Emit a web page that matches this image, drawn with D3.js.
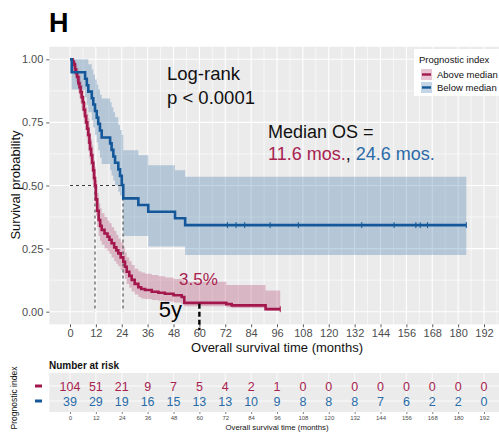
<!DOCTYPE html>
<html>
<head>
<meta charset="utf-8">
<script src="https://cdn.jsdelivr.net/npm/d3@7/dist/d3.min.js"></script>
<style>
  html, body { margin: 0; padding: 0; background: #fff; }
  svg { display: block; font-family: Arial, "Liberation Sans", sans-serif; }
</style>
</head>
<body>
<svg id="chart" width="499" height="433"></svg>
<script>
// Kaplan–Meier estimates by prognostic index group (months, survival, 95% CI)
const redTime  = [0, 1.2, 1.8, 2.3, 2.8, 3.3, 3.9, 4.4, 4.9, 5.4, 5.9, 6.4, 6.96, 7.5, 8, 8.5, 9, 9.3, 9.8, 10.3, 10.8, 11.2, 11.6, 12, 12.6, 13.3, 14, 14.7, 16, 17.4, 18.3, 19.3, 20.5, 21.5, 22.4, 23.5, 24.7, 25.5, 26.3, 27.5, 28.6, 30, 31.7, 33, 34.8, 37.9, 41, 44, 48, 51.8, 53, 72.5, 75, 90.7];
const redSurv  = [1, 0.99, 0.98, 0.96, 0.945, 0.93, 0.905, 0.89, 0.87, 0.85, 0.83, 0.80, 0.775, 0.75, 0.725, 0.70, 0.67, 0.645, 0.62, 0.59, 0.56, 0.53, 0.50, 0.445, 0.40, 0.363, 0.34, 0.324, 0.31, 0.297, 0.285, 0.271, 0.255, 0.243, 0.231, 0.215, 0.198, 0.178, 0.158, 0.142, 0.126, 0.11, 0.097, 0.09, 0.086, 0.079, 0.075, 0.071, 0.065, 0.058, 0.035, 0.03, 0.025, 0.01];
const redLower = [1, 0.97, 0.955, 0.93, 0.91, 0.895, 0.865, 0.845, 0.825, 0.80, 0.78, 0.745, 0.72, 0.69, 0.665, 0.635, 0.605, 0.58, 0.555, 0.52, 0.49, 0.46, 0.43, 0.38, 0.335, 0.30, 0.28, 0.265, 0.25, 0.24, 0.23, 0.215, 0.20, 0.19, 0.18, 0.165, 0.15, 0.13, 0.11, 0.095, 0.08, 0.068, 0.058, 0.052, 0.05, 0.046, 0.043, 0.04, 0.036, 0.03, 0.022, 0.018, 0.015, 0.004];
const redUpper = [1, 1, 1, 0.99, 0.98, 0.965, 0.945, 0.935, 0.915, 0.90, 0.88, 0.855, 0.83, 0.81, 0.785, 0.765, 0.735, 0.71, 0.685, 0.66, 0.63, 0.60, 0.575, 0.52, 0.47, 0.43, 0.41, 0.39, 0.375, 0.36, 0.35, 0.335, 0.32, 0.305, 0.29, 0.275, 0.255, 0.235, 0.215, 0.20, 0.185, 0.17, 0.16, 0.155, 0.15, 0.145, 0.14, 0.135, 0.13, 0.125, 0.119, 0.106, 0.106, 0.084];
const redEnd = 97.5;

const blueTime  = [0, 0.8, 7, 7.8, 8.5, 10.1, 10.8, 11.6, 12.4, 13.1, 13.9, 14.7, 18.6, 19.3, 20.1, 20.9, 22.4, 23.2, 24.0, 24.7, 31.7, 36.3, 48.7, 53.4];
const blueSurv  = [1, 0.949, 0.923, 0.897, 0.872, 0.846, 0.821, 0.795, 0.769, 0.744, 0.718, 0.69, 0.667, 0.641, 0.615, 0.59, 0.564, 0.538, 0.502, 0.449, 0.423, 0.396, 0.37, 0.343];
const blueLower = [1, 0.88, 0.85, 0.82, 0.79, 0.76, 0.73, 0.70, 0.67, 0.64, 0.61, 0.585, 0.56, 0.54, 0.52, 0.50, 0.475, 0.46, 0.44, 0.30, 0.30, 0.258, 0.258, 0.225];
const blueUpper = [1, 1, 1, 1, 0.98, 0.96, 0.94, 0.92, 0.90, 0.88, 0.86, 0.845, 0.83, 0.81, 0.79, 0.77, 0.74, 0.72, 0.70, 0.64, 0.62, 0.58, 0.56, 0.535];
const blueEnd = 183.8;
const blueCensor = [73, 77, 81, 92.8, 105.9, 135.3, 150.3, 160.4, 162.4, 165.8, 183.8];

const medianOS = [11.6, 24.6];
const landmark = 60;

const xTicks = d3.range(0, 193, 12);
const yTicks = [0, 0.25, 0.5, 0.75, 1];
const riskRed  = [104, 51, 21, 9, 7, 5, 4, 2, 1, 0, 0, 0, 0, 0, 0, 0, 0];
const riskBlue = [39, 29, 19, 16, 15, 13, 13, 10, 9, 8, 8, 8, 7, 6, 2, 2, 0];
const groupNames = ["Above median", "Below median"];

const RED = "#A3174C", RED_TXT = "#A8224F";
const BLUE = "#14589A", BLUE_TXT = "#2A6CA8";
const BG = "#EBEBEB", TICK_TXT = "#4D4D4D";

const svg = d3.select("#chart");

// scales (ggplot-style 5% padding)
const x = d3.scaleLinear().domain([-9.6, 201.6]).range([49.3, 504.7]);
const y = d3.scaleLinear().domain([-0.05, 1.05]).range([324.3, 46.7]);

// ---- title
svg.append("text").attr("x", 49).attr("y", 32).attr("font-size", 27).attr("font-weight", "bold").text("H");

// ---- main panel
const panel = svg.append("g");
panel.append("rect").attr("x", x.range()[0]).attr("y", y.range()[1])
  .attr("width", x.range()[1] - x.range()[0]).attr("height", y.range()[0] - y.range()[1]).attr("fill", BG);

const minorX = d3.range(6, 200, 12);
const minorY = [0.125, 0.375, 0.625, 0.875];
panel.selectAll(".gx-minor").data(minorX).join("line")
  .attr("x1", d => x(d)).attr("x2", d => x(d)).attr("y1", y.range()[1]).attr("y2", y.range()[0])
  .attr("stroke", "#fff").attr("stroke-width", 0.6);
panel.selectAll(".gy-minor").data(minorY).join("line")
  .attr("x1", x.range()[0]).attr("x2", x.range()[1]).attr("y1", d => y(d)).attr("y2", d => y(d))
  .attr("stroke", "#fff").attr("stroke-width", 0.6);
panel.selectAll(".gx").data(xTicks).join("line")
  .attr("x1", d => x(d)).attr("x2", d => x(d)).attr("y1", y.range()[1]).attr("y2", y.range()[0])
  .attr("stroke", "#fff").attr("stroke-width", 1.1);
panel.selectAll(".gy").data(yTicks).join("line")
  .attr("x1", x.range()[0]).attr("x2", x.range()[1]).attr("y1", d => y(d)).attr("y2", d => y(d))
  .attr("stroke", "#fff").attr("stroke-width", 1.1);

// step curves and confidence ribbons
function stepRows(time, surv, lo, hi, end) {
  const rows = time.map((t, i) => ({ t, s: surv[i], lo: lo[i], hi: hi[i] }));
  const last = rows[rows.length - 1];
  rows.push({ t: end, s: last.s, lo: last.lo, hi: last.hi });
  return rows;
}
const redRows = stepRows(redTime, redSurv, redLower, redUpper, redEnd);
const blueRows = stepRows(blueTime, blueSurv, blueLower, blueUpper, blueEnd);

const area = d3.area().curve(d3.curveStepAfter).x(d => x(d.t)).y0(d => y(d.lo)).y1(d => y(d.hi));
const line = d3.line().curve(d3.curveStepAfter).x(d => x(d.t)).y(d => y(d.s));

panel.append("path").attr("d", area(redRows)).attr("fill", RED).attr("fill-opacity", 0.25);
panel.append("path").attr("d", area(blueRows)).attr("fill", BLUE).attr("fill-opacity", 0.25);

// median survival reference lines
const dashG = panel.append("g").attr("stroke", "#3a3a3a").attr("stroke-width", 1).attr("stroke-dasharray", "3,3").attr("fill", "none");
dashG.append("line").attr("x1", x(0)).attr("x2", x(d3.max(medianOS))).attr("y1", y(0.5)).attr("y2", y(0.5));
medianOS.forEach(m => dashG.append("line").attr("x1", x(m)).attr("x2", x(m)).attr("y1", y(0.5)).attr("y2", y(0)));

panel.append("path").attr("d", line(redRows)).attr("fill", "none").attr("stroke", RED).attr("stroke-width", 2.6);
panel.append("path").attr("d", line(blueRows)).attr("fill", "none").attr("stroke", BLUE).attr("stroke-width", 2.6);

// censoring marks
function survAt(time, surv, t) {
  let v = surv[0];
  time.forEach((tt, i) => { if (tt <= t) v = surv[i]; });
  return v;
}
panel.selectAll(".cens").data(blueCensor).join("line")
  .attr("x1", d => x(d)).attr("x2", d => x(d))
  .attr("y1", d => y(survAt(blueTime, blueSurv, d)) - 3).attr("y2", d => y(survAt(blueTime, blueSurv, d)) + 3)
  .attr("stroke", BLUE).attr("stroke-width", 1);
panel.append("line").attr("x1", x(redEnd)).attr("x2", x(redEnd))
  .attr("y1", y(redSurv[redSurv.length - 1]) - 3).attr("y2", y(redSurv[redSurv.length - 1]) + 3)
  .attr("stroke", RED).attr("stroke-width", 1);

// 5-year landmark
const fiveYr = survAt(redTime, redSurv, landmark);
svg.append("line").attr("x1", x(landmark)).attr("x2", x(landmark)).attr("y1", y(fiveYr) + 1).attr("y2", 330)
  .attr("stroke", "#000").attr("stroke-width", 2.4).attr("stroke-dasharray", "5,3");
svg.append("text").attr("x", 182).attr("y", 317).attr("text-anchor", "end").attr("font-size", 22).attr("fill", "#000").text("5y");
svg.append("text").attr("x", 179).attr("y", 285).attr("font-size", 17).attr("fill", RED_TXT)
  .text(d3.format(".1f")(fiveYr * 100) + "%");

// annotations
svg.append("text").attr("x", 167).attr("y", 80).attr("font-size", 18.5).attr("fill", "#111").text("Log-rank");
svg.append("text").attr("x", 167).attr("y", 104).attr("font-size", 18.5).attr("fill", "#111").text("p < 0.0001");
svg.append("text").attr("x", 268).attr("y", 138).attr("font-size", 18).attr("fill", "#111").text("Median OS =");
const med = svg.append("text").attr("x", 268).attr("y", 160).attr("font-size", 18);
med.append("tspan").attr("fill", RED_TXT).text(medianOS[0].toFixed(1) + " mos.");
med.append("tspan").attr("fill", "#111").text(", ");
med.append("tspan").attr("fill", BLUE_TXT).text(medianOS[1].toFixed(1) + " mos.");

// axes
const yAxis = svg.append("g").attr("transform", `translate(${x.range()[0]},0)`)
  .call(d3.axisLeft(y).tickValues(yTicks).tickFormat(d3.format(".2f")).tickSize(3).tickPadding(3));
const xAxis = svg.append("g").attr("transform", `translate(0,${y.range()[0]})`)
  .call(d3.axisBottom(x).tickValues(xTicks).tickSize(3).tickPadding(2));
[xAxis, yAxis].forEach(a => {
  a.select(".domain").remove();
  a.selectAll(".tick line").attr("stroke", "#333").attr("stroke-width", 0.8);
  a.selectAll(".tick text").attr("fill", TICK_TXT).attr("font-size", 11).attr("font-family", "Arial, 'Liberation Sans', sans-serif");
});

svg.append("text").attr("x", (x.range()[0] + x.range()[1]) / 2).attr("y", 352).attr("text-anchor", "middle")
  .attr("font-size", 13).attr("fill", "#111").text("Overall survival time (months)");
svg.append("text").attr("transform", "translate(20,185) rotate(-90)").attr("text-anchor", "middle")
  .attr("font-size", 13).attr("fill", "#111").text("Survival probability");

// legend
const leg = svg.append("g").attr("transform", "translate(414,49)");
leg.append("rect").attr("width", 100).attr("height", 47).attr("fill", "#fff");
leg.append("text").attr("x", 5).attr("y", 14).attr("font-size", 9.5).attr("fill", "#111").text("Prognostic index");
[[RED, groupNames[0]], [BLUE, groupNames[1]]].forEach(([c, name], i) => {
  const g = leg.append("g").attr("transform", `translate(7,${20 + i * 13})`);
  g.append("rect").attr("width", 11).attr("height", 11).attr("fill", c).attr("fill-opacity", 0.25);
  g.append("line").attr("x1", 1).attr("x2", 10).attr("y1", 5.5).attr("y2", 5.5).attr("stroke", c).attr("stroke-width", 2.4);
  g.append("text").attr("x", 16).attr("y", 9).attr("font-size", 9.5).attr("fill", "#111").text(name);
});

// ---- number at risk table
svg.append("text").attr("x", 49).attr("y", 369).attr("font-size", 10).attr("font-weight", "bold").attr("fill", "#111").text("Number at risk");
const tTop = 373, tBot = 412;
svg.append("rect").attr("x", x.range()[0]).attr("y", tTop).attr("width", x.range()[1] - x.range()[0]).attr("height", tBot - tTop).attr("fill", BG);
const rowY = [386, 401];
svg.selectAll(".tgx").data(xTicks).join("line")
  .attr("x1", d => x(d)).attr("x2", d => x(d)).attr("y1", tTop).attr("y2", tBot).attr("stroke", "#fff").attr("stroke-width", 0.8);
svg.selectAll(".tgy").data(rowY).join("line")
  .attr("x1", x.range()[0]).attr("x2", x.range()[1]).attr("y1", d => d).attr("y2", d => d).attr("stroke", "#fff").attr("stroke-width", 0.8);

[[riskRed, RED_TXT, RED], [riskBlue, BLUE_TXT, BLUE]].forEach(([vals, tc, lc], r) => {
  svg.selectAll(".risk" + r).data(vals).join("text")
    .attr("x", (d, i) => x(xTicks[i])).attr("y", rowY[r]).attr("dy", "0.36em").attr("text-anchor", "middle")
    .attr("font-size", 12.5).attr("fill", tc).text(d => d);
  svg.append("line").attr("x1", 35).attr("x2", 42).attr("y1", rowY[r]).attr("y2", rowY[r]).attr("stroke", lc).attr("stroke-width", 3);
});

const tAxis = svg.append("g").attr("transform", `translate(0,${tBot})`)
  .call(d3.axisBottom(x).tickValues(xTicks).tickSize(2).tickPadding(2));
tAxis.select(".domain").remove();
tAxis.selectAll(".tick line").attr("stroke", "#333").attr("stroke-width", 0.6);
tAxis.selectAll(".tick text").attr("fill", TICK_TXT).attr("font-size", 6).attr("font-family", "Arial, 'Liberation Sans', sans-serif");
svg.append("text").attr("x", (x.range()[0] + x.range()[1]) / 2).attr("y", 430).attr("text-anchor", "middle")
  .attr("font-size", 7.8).attr("fill", "#111").text("Overall survival time (months)");
svg.append("text").attr("transform", "translate(17,398) rotate(-90)").attr("text-anchor", "middle")
  .attr("font-size", 8.5).attr("fill", "#111").text("Prognostic index");
</script>
</body>
</html>
